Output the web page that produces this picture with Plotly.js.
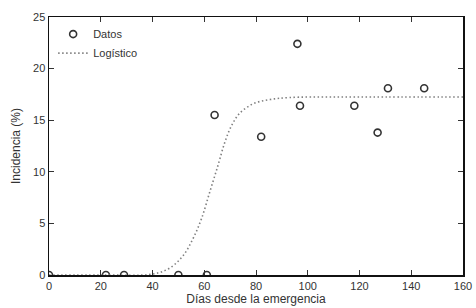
<!DOCTYPE html>
<html>
<head>
<meta charset="utf-8">
<script src="https://cdn.plot.ly/plotly-3.0.1.min.js"></script>
<style>html,body{margin:0;padding:0;background:#fff}#chart{width:476px;height:308px}</style>
</head>
<body>
<div id="chart"></div>
<script>
var datosX = [0, 22, 29, 50, 61, 64, 82, 96, 97, 118, 127, 131, 145];
var datosY = [0, 0, 0, 0, 0, 15.5, 13.4, 22.4, 16.4, 16.4, 13.8, 18.1, 18.1];
var logX = [0, 20, 40.3, 46.8, 51.9, 55.8, 59.0, 62.2, 65.4, 68.0, 70.6, 73.8, 79.0, 85.4, 93.1, 110, 130, 160];
var logY = [0, 0, 0.1, 0.7, 1.9, 3.6, 5.5, 8.1, 10.7, 12.9, 14.5, 15.7, 16.6, 17.0, 17.2, 17.25, 17.25, 17.25];
var xTicks = [0, 20, 40, 60, 80, 100, 120, 140, 160];
var yTicks = [0, 5, 10, 15, 20, 25];

var traces = [
  {x: datosX, y: datosY, type: 'scatter', mode: 'markers', name: 'Datos',
   marker: {symbol: 'circle-open', size: 7, color: '#333', line: {width: 1.6, color: '#333'}},
   cliponaxis: true},
  {x: logX, y: logY, type: 'scatter', mode: 'lines', name: 'Logístico',
   line: {dash: '1.5px,2.5px', width: 1.6, color: '#808080', shape: 'spline'}}
];
var axisCommon = {showgrid: false, zeroline: false, showline: true, linecolor: '#111', linewidth: 1.5,
  mirror: 'ticks', ticks: 'inside', ticklen: 5, tickwidth: 1, tickcolor: '#333',
  tickfont: {family: 'Liberation Sans, Arial, sans-serif', size: 11, color: '#333'}};
var layout = {
  width: 476, height: 308,
  margin: {l: 49, r: 13, t: 17, b: 33},
  paper_bgcolor: '#fff', plot_bgcolor: '#fff',
  showlegend: true,
  legend: {x: 0.01, y: 0.99, xanchor: 'left', yanchor: 'top', bgcolor: 'rgba(0,0,0,0)',
    font: {family: 'Liberation Sans, Arial, sans-serif', size: 11, color: '#333'}, tracegroupgap: 0},
  xaxis: Object.assign({}, axisCommon, {range: [0, 160], tickvals: xTicks,
    title: {text: 'Días desde la emergencia', standoff: 2, font: {family: 'Liberation Sans, Arial, sans-serif', size: 12, color: '#333'}}}),
  yaxis: Object.assign({}, axisCommon, {range: [0, 25], tickvals: yTicks,
    title: {text: 'Incidencia (%)', standoff: 10, font: {family: 'Liberation Sans, Arial, sans-serif', size: 12, color: '#333'}}})
};
Plotly.newPlot('chart', traces, layout, {staticPlot: true});
</script>
</body>
</html>
